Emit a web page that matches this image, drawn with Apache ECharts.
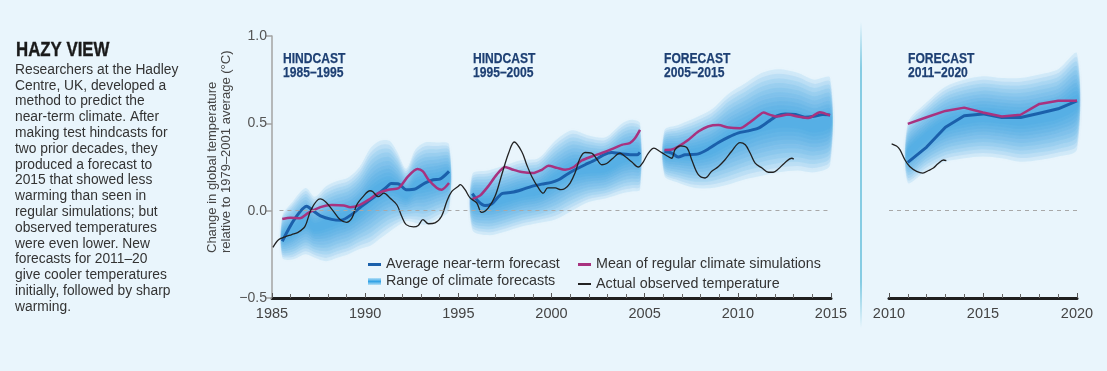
<!DOCTYPE html>
<html><head><meta charset="utf-8">
<script src="https://cdn.jsdelivr.net/npm/echarts@6/dist/echarts.min.js"></script>
<style>html,body{margin:0;padding:0;background:#e9f5fc;}#c{width:1107px;height:371px;}</style>
</head><body><div id="c"></div><script>
// ---------- DATA ----------
const xTicksMain = [1985, 2015];
const xTicksRight = [2010, 2020];
const yRange = [-0.5, 1.0];

const obsMain = [[1985.05,-0.21],[1985.35,-0.166],[1985.7,-0.15],[1986.06,-0.137],[1986.4,-0.124],[1986.77,-0.09],[1987.1,0.006],[1987.58,0.067],[1987.9,0.048],[1988.3,-0.004],[1988.65,-0.051],[1989.0,-0.067],[1989.3,-0.04],[1989.55,0.034],[1989.9,0.082],[1990.26,0.114],[1990.4,0.11],[1990.7,0.08],[1991.0,0.1],[1991.33,0.073],[1991.7,0.034],[1991.96,-0.032],[1992.2,-0.08],[1992.6,-0.093],[1992.85,-0.085],[1993.1,-0.051],[1993.4,-0.075],[1993.75,-0.07],[1994.1,-0.032],[1994.38,0.053],[1994.65,0.11],[1995.0,0.14],[1995.1,0.149],[1995.36,0.12],[1995.63,0.073],[1995.99,0.044],[1996.25,-0.01],[1996.6,0.015],[1996.97,0.082],[1997.33,0.206],[1997.7,0.33],[1998.0,0.393],[1998.4,0.339],[1998.67,0.263],[1998.94,0.196],[1999.3,0.13],[1999.56,0.1],[1999.8,0.13],[2000.2,0.13],[2000.5,0.12],[2000.7,0.125],[2001.0,0.158],[2001.26,0.215],[2001.53,0.3],[2001.8,0.333],[2002.15,0.33],[2002.4,0.3],[2002.7,0.263],[2002.96,0.27],[2003.3,0.3],[2003.67,0.33],[2003.95,0.31],[2004.3,0.28],[2004.66,0.25],[2004.93,0.28],[2005.2,0.33],[2005.5,0.358],[2005.8,0.34],[2006.1,0.32],[2006.45,0.3],[2006.63,0.349],[2006.9,0.371],[2007.27,0.36],[2007.53,0.29],[2007.88,0.206],[2008.24,0.187],[2008.6,0.225],[2008.96,0.253],[2009.3,0.29],[2009.67,0.34],[2010.12,0.39],[2010.4,0.377],[2010.66,0.33],[2010.93,0.272],[2011.3,0.244],[2011.64,0.22],[2011.9,0.22],[2012.17,0.238],[2012.5,0.272],[2012.9,0.3],[2013.0,0.295]];
const obsRight = [[2010.14,0.383],[2010.4,0.37],[2010.58,0.349],[2010.85,0.29],[2011.1,0.253],[2011.47,0.225],[2011.8,0.215],[2012.1,0.23],[2012.36,0.244],[2012.6,0.268],[2012.9,0.29],[2013.05,0.287]];

const hind1Avg = [[1985.55,-0.175],[1986.2,-0.05],[1986.86,0.025],[1987.2,0.0],[1987.6,-0.03],[1988.2,-0.05],[1988.7,-0.055],[1989.3,-0.02],[1989.8,0.025],[1990.5,0.08],[1991.1,0.13],[1991.4,0.155],[1991.8,0.153],[1992.2,0.12],[1992.7,0.125],[1993.2,0.158],[1993.66,0.177],[1994.0,0.18],[1994.5,0.225]];
const hind1Sim = [[1985.55,-0.048],[1986.0,-0.04],[1986.5,-0.044],[1986.95,-0.013],[1987.6,0.02],[1988.2,0.033],[1988.85,0.03],[1989.2,0.02],[1989.65,0.03],[1990.2,0.063],[1990.7,0.1],[1991.25,0.12],[1991.8,0.13],[1992.3,0.196],[1992.8,0.238],[1993.1,0.225],[1993.4,0.177],[1993.85,0.13],[1994.1,0.12],[1994.5,0.158]];
const hind1Band = [[1985.55,-0.27,-0.03],[1986.1,-0.28,0.05],[1986.8,-0.25,0.13],[1987.3,-0.27,0.08],[1987.9,-0.29,0.14],[1988.5,-0.27,0.17],[1989.1,-0.25,0.19],[1989.7,-0.22,0.25],[1990.3,-0.2,0.36],[1990.8,-0.16,0.40],[1991.3,-0.12,0.40],[1991.7,-0.09,0.34],[1992.2,-0.06,0.24],[1992.7,-0.07,0.35],[1993.2,-0.08,0.39],[1993.8,-0.05,0.39],[1994.5,0.0,0.38]];

const hind2Avg = [[1995.75,0.097],[1996.07,0.053],[1996.43,0.029],[1996.8,0.04],[1997.33,0.097],[1997.87,0.105],[1998.4,0.12],[1998.94,0.139],[1999.48,0.152],[2000.0,0.162],[2000.38,0.177],[2000.8,0.206],[2001.26,0.234],[2001.8,0.263],[2002.34,0.29],[2002.8,0.32],[2003.23,0.333],[2003.77,0.325],[2004.3,0.32],[2004.6,0.32],[2004.75,0.333]];
const hind2Sim = [[1995.75,0.067],[1996.16,0.086],[1996.6,0.139],[1997.06,0.206],[1997.5,0.25],[1997.95,0.234],[1998.4,0.221],[1999.0,0.215],[1999.48,0.234],[1999.83,0.257],[2000.3,0.245],[2000.73,0.234],[2001.2,0.25],[2001.62,0.287],[2002.16,0.31],[2002.7,0.33],[2003.23,0.352],[2003.77,0.377],[2004.2,0.387],[2004.48,0.415],[2004.75,0.463]];
const hind2Band = [[1995.75,-0.11,0.21],[1996.6,-0.14,0.23],[1997.5,-0.12,0.26],[1998.4,-0.09,0.29],[1999.3,-0.07,0.30],[2000.2,-0.05,0.40],[2001.1,0.0,0.46],[2002.0,0.05,0.43],[2002.9,0.07,0.42],[2003.8,0.10,0.50],[2004.3,0.11,0.52],[2004.75,0.12,0.50]];

const fc1Avg = [[2006.06,0.339],[2006.45,0.33],[2006.8,0.307],[2007.17,0.32],[2007.88,0.325],[2008.4,0.352],[2008.96,0.39],[2009.5,0.421],[2010.0,0.444],[2010.57,0.457],[2011.1,0.472],[2011.64,0.51],[2012.1,0.543],[2012.54,0.554],[2013.1,0.55],[2013.6,0.535],[2014.1,0.54],[2014.57,0.55],[2014.95,0.548]];
const fc1Sim = [[2006.06,0.348],[2006.45,0.35],[2006.8,0.367],[2007.35,0.406],[2007.88,0.453],[2008.4,0.482],[2008.96,0.49],[2009.5,0.476],[2010.12,0.472],[2010.57,0.5],[2011.1,0.543],[2011.37,0.562],[2011.7,0.55],[2012.1,0.539],[2012.7,0.55],[2013.2,0.539],[2013.8,0.53],[2014.4,0.564],[2014.95,0.545]];
const fc1Band = [[2006.06,0.20,0.46],[2006.8,0.16,0.49],[2007.7,0.13,0.53],[2008.6,0.13,0.58],[2009.5,0.15,0.67],[2010.4,0.18,0.73],[2011.3,0.20,0.79],[2012.2,0.22,0.81],[2013.2,0.23,0.79],[2014.1,0.22,0.75],[2014.95,0.26,0.76]];

const fc2Years = [2011,2012,2013,2014,2015,2016,2017,2018,2019,2020];
const fc2Avg = [0.276,0.364,0.478,0.543,0.554,0.533,0.533,0.558,0.583,0.629];
const fc2Sim = [0.497,0.535,0.571,0.59,0.562,0.539,0.549,0.611,0.629,0.629];
const fc2Low = [0.16,0.23,0.28,0.30,0.31,0.30,0.28,0.29,0.31,0.35];
const fc2High = [0.50,0.62,0.71,0.75,0.77,0.76,0.76,0.78,0.81,0.90];

const periodLabels = ['HINDCAST\n1985–1995','HINDCAST\n1995–2005','FORECAST\n2005–2015','FORECAST\n2011–2020'];
const legendNames = ['Average near-term forecast','Mean of regular climate simulations','Range of climate forecasts','Actual observed temperature'];
const bodyText = ['Researchers at the Hadley','Centre, UK, developed a','method to predict the','near-term climate. After','making test hindcasts for','two prior decades, they','produced a forecast to','2015 that showed less','warming than seen in','regular simulations; but','observed temperatures','were even lower. New','forecasts for 2011–20','give cooler temperatures','initially, followed by sharp','warming.'];

// ---------- STYLE ----------
const SANS = "'Liberation Sans', Arial, sans-serif";
const BLUE = '#1b60ab', MAG = '#a8327f', BLK = '#222';
const layers = [1.0, 0.91, 0.82, 0.73, 0.64, 0.55, 0.46, 0.38, 0.30, 0.22, 0.14];
const layerColor = 'rgba(55,162,228,0.115)';

const fc2Band = fc2Years.map((y,i)=>[y, fc2Low[i], fc2High[i]]);
const pairs = (xs, ys) => xs.map((x,i)=>[x, ys[i]]);

function bandSeries(band, axis, k, named){
  return {
    type:'custom', name: named ? legendNames[2] : 'band', xAxisIndex:axis, yAxisIndex:axis, z:1,
    silent:true, data: band, encode:{x:0, y:1},
    itemStyle:{color: named ? new echarts.graphic.LinearGradient(0,0,0,1,[{offset:0,color:'#b5e0f7'},{offset:0.5,color:'#33a3e6'},{offset:1,color:'#b5e0f7'}]) : layerColor},
    renderItem(params, api){
      if (params.dataIndex !== 0) return null;
      const top = [], bot = [];
      band.forEach(b=>{
        const mid = (b[1]+b[2])/2, h = (b[2]-b[1])/2*k;
        top.push(api.coord([b[0], mid+h]));
        bot.push(api.coord([b[0], mid-h]));
      });
      return {type:'polygon', shape:{points: top.concat(bot.reverse()), smooth:0.3},
        style:{fill:layerColor, shadowBlur:4, shadowColor:'rgba(55,162,228,0.2)'}};
    }
  };
}
function line(data, axis, color, width, nameIdx, smooth){
  return {type:'line', name:legendNames[nameIdx], xAxisIndex:axis, yAxisIndex:axis, data, showSymbol:false, symbol:'none', smooth, z:3,
    color, lineStyle:{color, width}, itemStyle:{color}, silent:true};
}

const series = [];
[[hind1Band,0],[hind2Band,0],[fc1Band,0],[fc2Band,1]].forEach(([b,a],bi)=>{
  layers.forEach((k,li)=>series.push(bandSeries(b,a,k, bi===0 && li===0)));
});
const avgMain = [hind1Avg, hind2Avg, fc1Avg];
const simMain = [hind1Sim, hind2Sim, fc1Sim];
avgMain.forEach(d=>series.push(line(d,0,BLUE,3,0,0.25)));
series.push(line(pairs(fc2Years,fc2Avg),1,BLUE,3,0,false));
simMain.forEach(d=>series.push(line(d,0,MAG,2.5,1,0.25)));
series.push(line(pairs(fc2Years,fc2Sim),1,MAG,2.5,1,false));
const obs1 = line(obsMain,0,BLK,1.3,3,0.35);
obs1.markLine = {silent:true, symbol:'none', label:{show:false}, lineStyle:{color:'#a8a8a8', type:[4,4], width:1},
  data:[[{coord:[1985.4,0]},{coord:[xTicksMain[1],0]}]]};
series.push(obs1);
const obs2 = line(obsRight,1,BLK,1.3,3,0.35);
obs2.markLine = {silent:true, symbol:'none', label:{show:false}, lineStyle:{color:'#a8a8a8', type:[4,4], width:1},
  data:[[{coord:[xTicksRight[0],0]},{coord:[xTicksRight[1],0]}]]};
series.push(obs2);

function xAxis(idx, range){
  return {type:'value', gridIndex:idx, min:range[0], max:range[1], interval:5,
    axisLine:{onZero:false, lineStyle:{color:'#1e1e1e', width:3}},
    axisTick:{show:true, inside:true, length:5, lineStyle:{color:'#555', width:1}},
    minorTick:{show:true, splitNumber:5, length:4, lineStyle:{color:'#666', width:1}},
    splitLine:{show:false}, minorSplitLine:{show:false},
    axisLabel:{color:'#444', fontSize:14.5, fontFamily:SANS, margin:8, formatter:v=>String(v)}};
}
const legTxt = {color:'#333', fontSize:14.3, fontFamily:SANS};
function leg(i, left, top, h){
  return {data:[legendNames[i]], left, top, itemWidth:13, itemHeight:h, icon:'rect', padding:0, selectedMode:false, textStyle:legTxt, itemGap:0};
}
const labelStyle = {fill:'#1d3f73', stroke:'#1d3f73', lineWidth:0.25, font:"bold 15.5px "+SANS, lineHeight:14.5};
function periodLabel(i, x){
  return {type:'text', x, y:51, scaleX:0.78, silent:true, style:Object.assign({text:periodLabels[i]}, labelStyle)};
}
const option = {
  backgroundColor:'#e9f5fc', animation:false,
  grid:[{left:272,right:276,top:36,bottom:73},{left:889,right:30,top:36,bottom:73}],
  xAxis:[xAxis(0,xTicksMain), xAxis(1,xTicksRight)],
  yAxis:[
    {type:'value', gridIndex:0, min:yRange[0], max:yRange[1], interval:0.5,
     axisLine:{show:true, onZero:false, lineStyle:{color:'#a3a3a3', width:1.5}},
     axisTick:{show:true, length:6, lineStyle:{color:'#a3a3a3', width:1.5}},
     splitLine:{show:false},
     axisLabel:{color:'#555', fontSize:14, fontFamily:SANS, margin:5, formatter:v=> v<0 ? '−'+Math.abs(v).toFixed(1) : v.toFixed(1)}},
    {type:'value', gridIndex:1, min:yRange[0], max:yRange[1], interval:0.5, show:false}
  ],
  legend:[leg(0,368,257.5,3), leg(1,578,257.5,3), leg(2,368,274.5,7), leg(3,578,277,2)],
  series,
  graphic:[
    {type:'rect', left:860, top:22, shape:{width:2, height:306}, silent:true,
     style:{fill:new echarts.graphic.LinearGradient(0,0,0,1,[{offset:0,color:'rgba(120,200,225,0)'},{offset:0.15,color:'#86cce3'},{offset:0.85,color:'#86cce3'},{offset:1,color:'rgba(120,200,225,0)'}])}},
    {type:'text', x:16, y:40, scaleX:0.82, silent:true, style:{text:'HAZY VIEW', fill:'#1a1a1a', stroke:'#1a1a1a', lineWidth:0.4, font:"bold 20.5px "+SANS}},
    {type:'text', x:15, y:62, silent:true, style:{text:bodyText.join('\n'), fill:'#333', font:"13.8px "+SANS, lineHeight:15.8}},
    {type:'text', x:205, y:253, rotation:Math.PI/2, silent:true, style:{text:'Change in global temperature\nrelative to 1979–2001 average (°C)', fill:'#444', font:"13px "+SANS, lineHeight:14.5, align:'left', verticalAlign:'top'}},
    periodLabel(0,283), periodLabel(1,473), periodLabel(2,664), periodLabel(3,908)
  ]
};
const chart = echarts.init(document.getElementById('c'), null, {renderer:'canvas'});
chart.setOption(option);
</script></body></html>
